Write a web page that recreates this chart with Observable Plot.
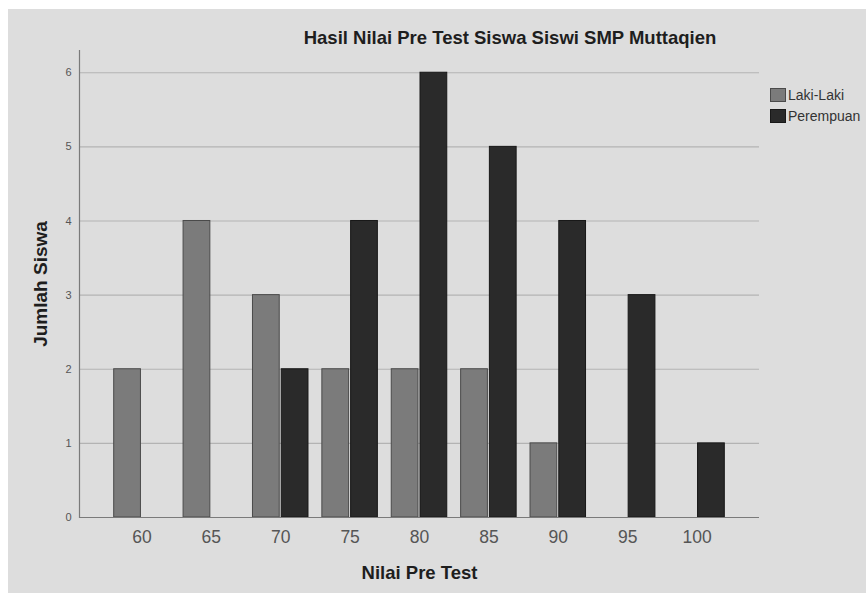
<!DOCTYPE html>
<html>
<head>
<meta charset="utf-8">
<script src="https://cdn.jsdelivr.net/npm/d3@7"></script>
<script src="https://cdn.jsdelivr.net/npm/@observablehq/plot@0.6"></script>
<style>
  html, body { margin: 0; padding: 0; background: #ffffff; }
  body { width: 866px; height: 593px; overflow: hidden; position: relative; font-family: "Liberation Sans", Arial, sans-serif; }
  #panel { position: absolute; left: 8px; top: 9px; width: 858px; height: 584px; background: #dddddd; overflow: hidden; }
  #chart { position: absolute; left: 0; top: 0; }
  #title { position: absolute; left: 502px; top: 18px; transform: translateX(-50%); white-space: nowrap;
           font-weight: bold; font-size: 18.5px; color: #1e1e1e; }
  #legend { position: absolute; left: 762px; top: 75px; font-size: 14px; color: #333; }
  .row { display: flex; align-items: center; height: 21px; white-space: nowrap; }
  .sw { width: 16px; height: 14px; box-sizing: border-box; border: 1px solid #444; margin-right: 2px; }
</style>
</head>
<body>
<div id="panel">
  <div id="chart"></div>
  <div id="title">Hasil Nilai Pre Test Siswa Siswi SMP Muttaqien</div>
  <div id="legend"></div>
</div>
<script>
// ---- data ----
const scores = [60, 65, 70, 75, 80, 85, 90, 95, 100];
const genders = ["Laki-Laki", "Perempuan"];
const laki = [2, 4, 3, 2, 2, 2, 1, 0, 0];
const perempuan = [0, 0, 2, 4, 6, 5, 4, 3, 1];
const yTicks = [0, 1, 2, 3, 4, 5, 6];
const xLabel = "Nilai Pre Test";
const yLabel = "Jumlah Siswa";

const fills = ["#7b7b7b", "#2a2a2a"];
const strokes = ["#4a4a4a", "#181818"];
// each bar occupies this many score units beside its category (group = 2 bars of the 5-point spacing)
const barSpan = 2;

const lakiRows = scores.map((s, i) => ({score: s, count: laki[i], gender: genders[0]})).filter(d => d.count > 0);
const perRows = scores.map((s, i) => ({score: s, count: perempuan[i], gender: genders[1]})).filter(d => d.count > 0);

const chart = Plot.plot({
  width: 858,
  height: 584,
  marginLeft: 71,
  marginRight: 107,
  marginTop: 41,
  marginBottom: 76,
  style: {background: "transparent", fontFamily: "'Liberation Sans', Arial, sans-serif", overflow: "visible"},
  x: {domain: [55.5, 104.5], axis: null},
  y: {domain: [0, 6.3], axis: null},
  marks: [
    Plot.ruleY(yTicks.filter(t => t > 0), {stroke: "#b3b3b3", strokeWidth: 1.2}),
    Plot.rectY(lakiRows, {
      x1: d => d.score - barSpan, x2: d => d.score, y: "count",
      fill: fills[0], stroke: strokes[0], strokeWidth: 1, insetRight: 1
    }),
    Plot.rectY(perRows, {
      x1: d => d.score, x2: d => d.score + barSpan, y: "count",
      fill: fills[1], stroke: strokes[1], strokeWidth: 1, insetLeft: 1
    }),
    Plot.ruleY([0], {stroke: "#7a7a7a", strokeWidth: 1.2}),
    Plot.frame({anchor: "left", stroke: "#7a7a7a", strokeWidth: 1.2}),
    Plot.axisY(yTicks, {tickSize: 0, tickPadding: 8, fontSize: 11, fill: "#555", label: null, tickFormat: d => String(d)}),
    Plot.axisX(scores, {tickSize: 0, tickPadding: 13, fontSize: 17.5, fill: "#555", label: null, tickFormat: d => String(d)}),
    Plot.text([xLabel], {text: d => d, frameAnchor: "bottom", lineAnchor: "middle", dy: 56, fontSize: 18.5, fontWeight: "bold", fill: "#1e1e1e"}),
    Plot.text([yLabel], {text: d => d, frameAnchor: "left", textAnchor: "middle", lineAnchor: "middle", dx: -39, rotate: -90, fontSize: 19, fontWeight: "bold", fill: "#1e1e1e"})
  ]
});
document.getElementById("chart").appendChild(chart);

const legend = document.getElementById("legend");
genders.forEach((g, i) => {
  const row = document.createElement("div");
  row.className = "row";
  const sw = document.createElement("div");
  sw.className = "sw";
  sw.style.background = fills[i];
  sw.style.borderColor = strokes[i];
  const label = document.createElement("span");
  label.textContent = g;
  row.appendChild(sw);
  row.appendChild(label);
  legend.appendChild(row);
});
</script>
</body>
</html>
